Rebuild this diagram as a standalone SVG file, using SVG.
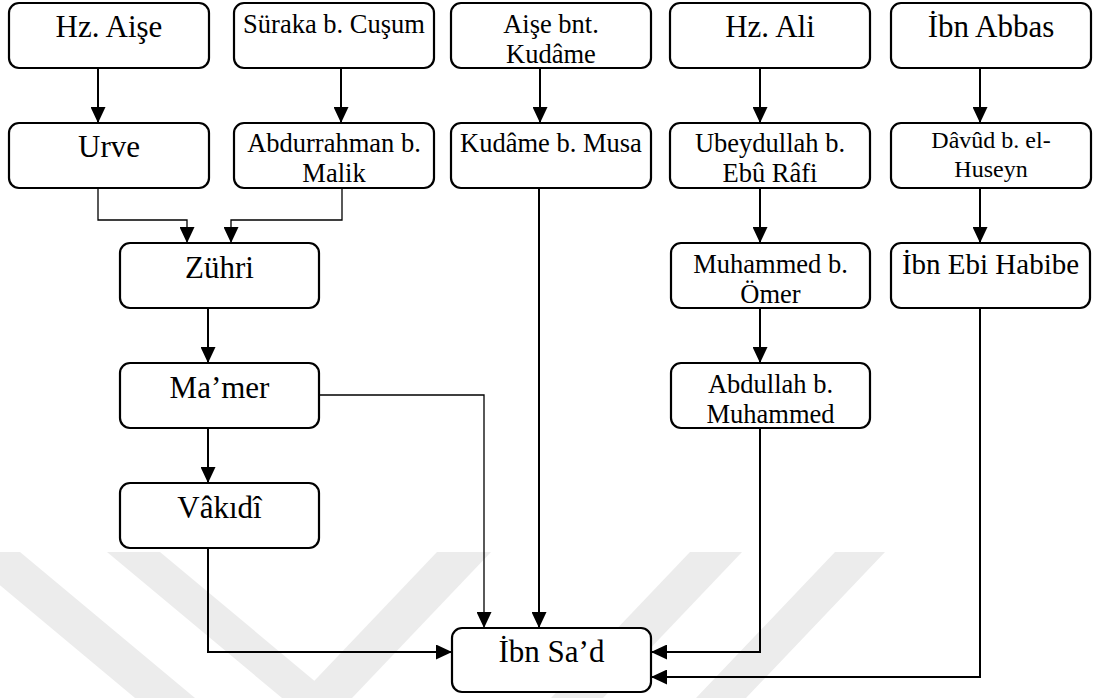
<svg xmlns="http://www.w3.org/2000/svg" width="1094" height="698" viewBox="0 0 1094 698">
  <defs>
    <style>
      .box { fill: #ffffff; stroke: #000000; stroke-width: 2.2; }
      .lbl { font-family: "Liberation Serif", "Times New Roman", serif; fill: #000000; text-anchor: middle; }
      .lg { font-size: 31px; }
      .md { font-size: 26.5px; }
      .sm { font-size: 24px; }
      .wire { fill: none; stroke: #000000; stroke-width: 2; }
      .thin { fill: none; stroke: #000000; stroke-width: 1.3; }
      .mark { fill: #ececec; }
    </style>
    <marker id="arrow" markerUnits="userSpaceOnUse" markerWidth="17" markerHeight="15" refX="16" refY="7.5" orient="auto">
      <path d="M0,0 L16,7.5 L0,15 Z" fill="#000000"/>
    </marker>
  </defs>

  <rect width="1094" height="698" fill="#ffffff"/>

  <!-- faint background emblem stripes -->
  <g id="emblem">
    <polygon class="mark" points="-40,552 20,552 195,698 135,698"/>
    <polygon class="mark" points="107,552 160,552 335,698 282,698"/>
    <polygon class="mark" points="437,552 491,552 352,698 298,698"/>
    <polygon class="mark" points="690,552 742,552 603,698 551,698"/>
    <polygon class="mark" points="835,552 885,552 746,698 696,698"/>
  </g>

  <!-- connectors -->
  <g id="connectors">
    <path class="wire" d="M98,68 V123" marker-end="url(#arrow)"/>
    <path class="wire" d="M341,68 V123" marker-end="url(#arrow)"/>
    <path class="wire" d="M540,68 V123" marker-end="url(#arrow)"/>
    <path class="wire" d="M760,68 V123" marker-end="url(#arrow)"/>
    <path class="wire" d="M980,68 V123" marker-end="url(#arrow)"/>
    <path class="thin" d="M98,188 V220 H187 V243" marker-end="url(#arrow)"/>
    <path class="thin" d="M342,188 V220 H231 V243" marker-end="url(#arrow)"/>
    <path class="wire" d="M208,308 V363" marker-end="url(#arrow)"/>
    <path class="wire" d="M208,428 V483" marker-end="url(#arrow)"/>
    <path class="thin" d="M319,395 H484 V628" marker-end="url(#arrow)"/>
    <path class="wire" d="M539,188 V628" marker-end="url(#arrow)"/>
    <path class="wire" d="M208,548 V652 H452" marker-end="url(#arrow)"/>
    <path class="wire" d="M760,188 V243" marker-end="url(#arrow)"/>
    <path class="wire" d="M760,308 V363" marker-end="url(#arrow)"/>
    <path class="wire" d="M760,428 V652 H651" marker-end="url(#arrow)"/>
    <path class="wire" d="M980,188 V243" marker-end="url(#arrow)"/>
    <path class="wire" d="M980,308 V677 H651" marker-end="url(#arrow)"/>
  </g>

  <!-- row 1 -->
  <g id="hz-aise">
    <rect class="box" x="9" y="3" width="200" height="65" rx="10"/>
    <text class="lbl lg" x="109" y="37">Hz. Aişe</text>
  </g>
  <g id="suraka">
    <rect class="box" x="234" y="3" width="200" height="65" rx="10"/>
    <text class="lbl md" x="334" y="33">Süraka b. Cuşum</text>
  </g>
  <g id="aise-bnt-kudame">
    <rect class="box" x="451" y="3" width="200" height="65" rx="10"/>
    <text class="lbl md" x="551" y="33">Aişe bnt.</text>
    <text class="lbl md" x="551" y="63">Kudâme</text>
  </g>
  <g id="hz-ali">
    <rect class="box" x="670" y="3" width="200" height="65" rx="10"/>
    <text class="lbl lg" x="770" y="37">Hz. Ali</text>
  </g>
  <g id="ibn-abbas">
    <rect class="box" x="891" y="3" width="200" height="65" rx="10"/>
    <text class="lbl lg" x="991" y="37">İbn Abbas</text>
  </g>

  <!-- row 2 -->
  <g id="urve">
    <rect class="box" x="9" y="123" width="200" height="65" rx="10"/>
    <text class="lbl lg" x="109" y="157">Urve</text>
  </g>
  <g id="abdurrahman">
    <rect class="box" x="234" y="123" width="200" height="65" rx="10"/>
    <text class="lbl md" x="334" y="152">Abdurrahman b.</text>
    <text class="lbl md" x="334" y="182">Malik</text>
  </g>
  <g id="kudame-b-musa">
    <rect class="box" x="451" y="123" width="200" height="65" rx="10"/>
    <text class="lbl md" x="551" y="152">Kudâme b. Musa</text>
  </g>
  <g id="ubeydullah">
    <rect class="box" x="670" y="123" width="200" height="65" rx="10"/>
    <text class="lbl md" x="770" y="152">Ubeydullah b.</text>
    <text class="lbl md" x="770" y="182">Ebû Râfi</text>
  </g>
  <g id="davud">
    <rect class="box" x="891" y="123" width="200" height="65" rx="10"/>
    <text class="lbl sm" x="991" y="148">Dâvûd b. el-</text>
    <text class="lbl sm" x="991" y="177">Huseyn</text>
  </g>

  <!-- lower chains -->
  <g id="zuhri">
    <rect class="box" x="120" y="243" width="199" height="65" rx="10"/>
    <text class="lbl lg" x="219.5" y="278">Zühri</text>
  </g>
  <g id="mamer">
    <rect class="box" x="120" y="363" width="199" height="65" rx="10"/>
    <text class="lbl lg" x="219.5" y="398">Ma’mer</text>
  </g>
  <g id="vakidi">
    <rect class="box" x="120" y="483" width="199" height="65" rx="10"/>
    <text class="lbl lg" x="219.5" y="518">Vâkıdî</text>
  </g>
  <g id="muhammed-b-omer">
    <rect class="box" x="671" y="243" width="199" height="65" rx="10"/>
    <text class="lbl md" x="770.5" y="273">Muhammed b.</text>
    <text class="lbl md" x="770.5" y="303">Ömer</text>
  </g>
  <g id="abdullah">
    <rect class="box" x="671" y="363" width="199" height="65" rx="10"/>
    <text class="lbl md" x="770.5" y="393">Abdullah b.</text>
    <text class="lbl md" x="770.5" y="423">Muhammed</text>
  </g>
  <g id="ibn-ebi-habibe">
    <rect class="box" x="891" y="243" width="199" height="65" rx="10"/>
    <text class="lbl" style="font-size:29px" x="990.5" y="274">İbn Ebi Habibe</text>
  </g>
  <g id="ibn-sad">
    <rect class="box" x="452" y="628" width="199" height="64" rx="10"/>
    <text class="lbl lg" x="551.5" y="662">İbn Sa’d</text>
  </g>
</svg>
